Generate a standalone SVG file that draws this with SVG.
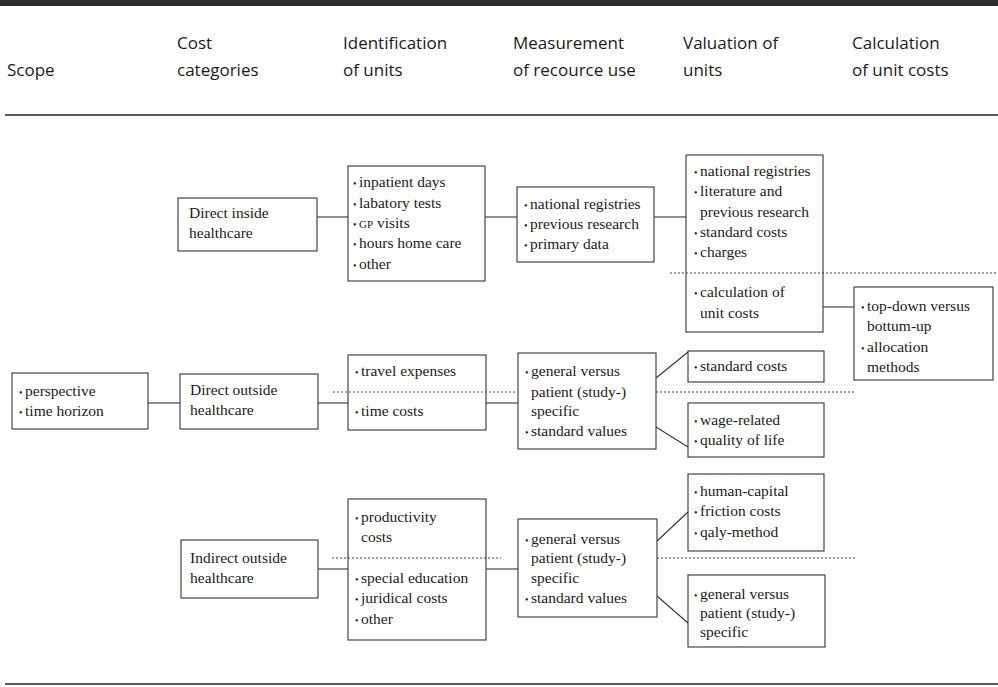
<svg xmlns="http://www.w3.org/2000/svg" width="998" height="687" viewBox="0 0 998 687">
<style>
.hd{font-family:"Open Sans","Liberation Sans",sans-serif;font-size:17px;fill:#1a1a1a}
.t{font-family:"Liberation Serif","DejaVu Serif",serif;font-size:15.5px;fill:#1a1a1a}
.b{font-size:10px}
.sc{font-size:11px}
.box{fill:#fff;stroke:#333;stroke-width:1.1}
.ln{stroke:#333;stroke-width:1.1;fill:none}
.dt{stroke:#444;stroke-width:1;stroke-dasharray:2 2;fill:none}
.rule{stroke:#222;stroke-width:1.3}
</style>
<rect x="0" y="0" width="998" height="687" fill="#fff"/>
<rect x="0" y="0" width="998" height="6" fill="#2a2a2a"/>
<line class="rule" x1="5" y1="115" x2="998" y2="115"/>
<line class="rule" x1="5" y1="684" x2="998" y2="684"/>

<g id="headers">
<text class="hd" x="7" y="76">Scope</text>
<text class="hd" x="177" y="49">Cost</text>
<text class="hd" x="177" y="76">categories</text>
<text class="hd" x="343" y="49">Identification</text>
<text class="hd" x="343" y="76">of units</text>
<text class="hd" x="513" y="49">Measurement</text>
<text class="hd" x="513" y="76">of recource use</text>
<text class="hd" x="683" y="49">Valuation of</text>
<text class="hd" x="683" y="76">units</text>
<text class="hd" x="852" y="49">Calculation</text>
<text class="hd" x="852" y="76">of unit costs</text>
</g>

<g id="connectors">
<line class="ln" x1="317" y1="217" x2="348" y2="217"/>
<line class="ln" x1="485" y1="217" x2="517" y2="217"/>
<line class="ln" x1="654" y1="217" x2="686" y2="217"/>
<line class="ln" x1="823" y1="307" x2="854" y2="307"/>
<line class="ln" x1="148" y1="403" x2="180" y2="403"/>
<line class="ln" x1="318" y1="403" x2="348" y2="403"/>
<line class="ln" x1="486" y1="403" x2="518" y2="403"/>
<line class="ln" x1="656" y1="378" x2="688" y2="352"/>
<line class="ln" x1="656" y1="427" x2="688" y2="447"/>
<line class="ln" x1="318" y1="569" x2="348" y2="569"/>
<line class="ln" x1="486" y1="569" x2="518" y2="569"/>
<line class="ln" x1="657" y1="541" x2="688" y2="512"/>
<line class="ln" x1="657" y1="596" x2="688" y2="623"/>
</g>

<g id="scope">
<rect class="box" x="12" y="373" width="136" height="56"/>
<text class="t" x="19" y="396"><tspan class="b">•</tspan><tspan dx="2.5">perspective</tspan></text>
<text class="t" x="19" y="416"><tspan class="b">•</tspan><tspan dx="2.5">time horizon</tspan></text>
</g>

<g id="direct-inside">
<rect class="box" x="178" y="198" width="139" height="53"/>
<text class="t" x="189" y="218">Direct inside</text>
<text class="t" x="189" y="238">healthcare</text>
</g>

<g id="direct-outside">
<rect class="box" x="180" y="374" width="138" height="55"/>
<text class="t" x="190" y="395">Direct outside</text>
<text class="t" x="190" y="415">healthcare</text>
</g>

<g id="indirect-outside">
<rect class="box" x="181" y="540" width="137" height="58"/>
<text class="t" x="190" y="563">Indirect outside</text>
<text class="t" x="190" y="583">healthcare</text>
</g>

<g id="ident-direct-inside">
<rect class="box" x="348" y="166" width="137" height="115"/>
<text class="t" x="353" y="187"><tspan class="b">•</tspan><tspan dx="2.5">inpatient days</tspan></text>
<text class="t" x="353" y="208"><tspan class="b">•</tspan><tspan dx="2.5">labatory tests</tspan></text>
<text class="t" x="353" y="228"><tspan class="b">•</tspan><tspan dx="2.5" class="sc">GP</tspan> visits</text>
<text class="t" x="353" y="248"><tspan class="b">•</tspan><tspan dx="2.5">hours home care</tspan></text>
<text class="t" x="353" y="269"><tspan class="b">•</tspan><tspan dx="2.5">other</tspan></text>
</g>

<g id="ident-direct-outside">
<rect class="box" x="348" y="355" width="138" height="75"/>
<text class="t" x="355" y="376"><tspan class="b">•</tspan><tspan dx="2.5">travel expenses</tspan></text>
<text class="t" x="355" y="416"><tspan class="b">•</tspan><tspan dx="2.5">time costs</tspan></text>
</g>

<g id="ident-indirect">
<rect class="box" x="348" y="499" width="138" height="141"/>
<text class="t" x="355" y="522"><tspan class="b">•</tspan><tspan dx="2.5">productivity</tspan></text>
<text class="t" x="361" y="542">costs</text>
<text class="t" x="355" y="583"><tspan class="b">•</tspan><tspan dx="2.5">special education</tspan></text>
<text class="t" x="355" y="603"><tspan class="b">•</tspan><tspan dx="2.5">juridical costs</tspan></text>
<text class="t" x="355" y="624"><tspan class="b">•</tspan><tspan dx="2.5">other</tspan></text>
</g>

<g id="meas-direct-inside">
<rect class="box" x="517" y="187" width="137" height="75"/>
<text class="t" x="524" y="209"><tspan class="b">•</tspan><tspan dx="2.5">national registries</tspan></text>
<text class="t" x="524" y="229"><tspan class="b">•</tspan><tspan dx="2.5">previous research</tspan></text>
<text class="t" x="524" y="249"><tspan class="b">•</tspan><tspan dx="2.5">primary data</tspan></text>
</g>

<g id="meas-direct-outside">
<rect class="box" x="518" y="353" width="138" height="96"/>
<text class="t" x="525" y="376"><tspan class="b">•</tspan><tspan dx="2.5">general versus</tspan></text>
<text class="t" x="531" y="397">patient (study-)</text>
<text class="t" x="531" y="416">specific</text>
<text class="t" x="525" y="436"><tspan class="b">•</tspan><tspan dx="2.5">standard values</tspan></text>
</g>

<g id="meas-indirect">
<rect class="box" x="518" y="519" width="139" height="98"/>
<text class="t" x="525" y="544"><tspan class="b">•</tspan><tspan dx="2.5">general versus</tspan></text>
<text class="t" x="531" y="563">patient (study-)</text>
<text class="t" x="531" y="583">specific</text>
<text class="t" x="525" y="603"><tspan class="b">•</tspan><tspan dx="2.5">standard values</tspan></text>
</g>

<g id="val-direct-inside">
<rect class="box" x="686" y="155" width="137" height="177"/>
<text class="t" x="694" y="176"><tspan class="b">•</tspan><tspan dx="2.5">national registries</tspan></text>
<text class="t" x="694" y="196"><tspan class="b">•</tspan><tspan dx="2.5">literature and</tspan></text>
<text class="t" x="700" y="217">previous research</text>
<text class="t" x="694" y="237"><tspan class="b">•</tspan><tspan dx="2.5">standard costs</tspan></text>
<text class="t" x="694" y="257"><tspan class="b">•</tspan><tspan dx="2.5">charges</tspan></text>
<text class="t" x="694" y="297"><tspan class="b">•</tspan><tspan dx="2.5">calculation of</tspan></text>
<text class="t" x="700" y="318">unit costs</text>
</g>

<g id="val-standard-costs">
<rect class="box" x="688" y="351" width="136" height="31"/>
<text class="t" x="694" y="371"><tspan class="b">•</tspan><tspan dx="2.5">standard costs</tspan></text>
</g>

<g id="val-wage">
<rect class="box" x="688" y="403" width="136" height="54"/>
<text class="t" x="694" y="425"><tspan class="b">•</tspan><tspan dx="2.5">wage-related</tspan></text>
<text class="t" x="694" y="445"><tspan class="b">•</tspan><tspan dx="2.5">quality of life</tspan></text>
</g>

<g id="val-human-capital">
<rect class="box" x="688" y="474" width="136" height="77"/>
<text class="t" x="694" y="496"><tspan class="b">•</tspan><tspan dx="2.5">human-capital</tspan></text>
<text class="t" x="694" y="516"><tspan class="b">•</tspan><tspan dx="2.5">friction costs</tspan></text>
<text class="t" x="694" y="537"><tspan class="b">•</tspan><tspan dx="2.5">qaly-method</tspan></text>
</g>

<g id="val-general">
<rect class="box" x="688" y="575" width="137" height="72"/>
<text class="t" x="694" y="599"><tspan class="b">•</tspan><tspan dx="2.5">general versus</tspan></text>
<text class="t" x="700" y="618">patient (study-)</text>
<text class="t" x="700" y="637">specific</text>
</g>

<g id="calc-unit-costs">
<rect class="box" x="854" y="287" width="139" height="93"/>
<text class="t" x="861" y="311"><tspan class="b">•</tspan><tspan dx="2.5">top-down versus</tspan></text>
<text class="t" x="867" y="331">bottum-up</text>
<text class="t" x="861" y="352"><tspan class="b">•</tspan><tspan dx="2.5">allocation</tspan></text>
<text class="t" x="867" y="372">methods</text>
</g>

<g id="dividers">
<line class="dt" x1="670" y1="273" x2="998" y2="273"/>
<line class="dt" x1="333" y1="392" x2="517" y2="392"/>
<line class="dt" x1="656" y1="392" x2="855" y2="392"/>
<line class="dt" x1="332" y1="558" x2="501" y2="558"/>
<line class="dt" x1="657" y1="558" x2="855" y2="558"/>
</g>
</svg>
